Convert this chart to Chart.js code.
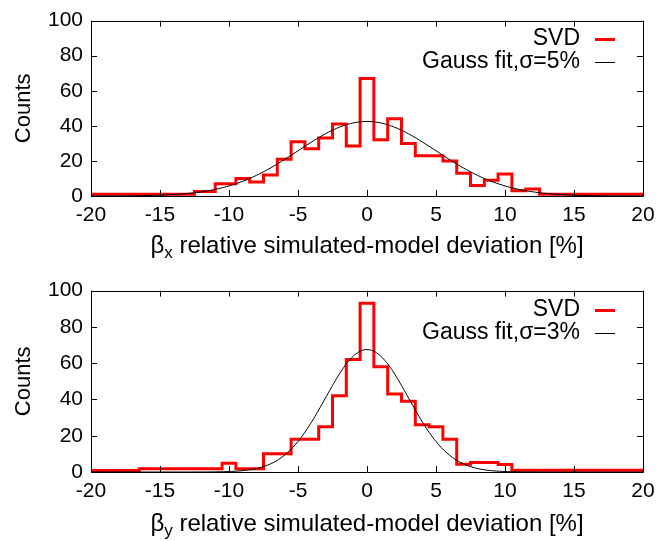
<!DOCTYPE html>
<html>
<head>
<meta charset="utf-8">
<title>Beta beating histograms</title>
<script src="https://cdn.jsdelivr.net/npm/chart.js@4.4.1/dist/chart.umd.min.js"></script>
<style>
    body { margin: 0; background: #fff; }
    canvas.panel { position: absolute; left: 0; }
</style>
</head>
<body>
<canvas id="chartBetaX" class="panel" width="671" height="270" style="top:0px"></canvas>
<canvas id="chartBetaY" class="panel" width="671" height="271" style="top:270px"></canvas>
<script>
// horizontal plane: histogram bin edges [%] and counts per bin
const edgesX = [-20, -12.5, -11, -9.5, -8.5, -7.5, -6.5, -5.5, -4.5, -3.5, -2.5, -1.5, -0.5,
    0.5, 1.5, 2.5, 3.5, 5.5, 6.5, 7.5, 8.5, 9.5, 10.5, 11.5, 12.5, 20];
const countsX = [1, 2.5, 7, 10, 8, 12, 21, 31, 27, 33, 41, 28.5, 67,
    32, 44, 30, 23, 20, 13, 6, 9, 12.5, 3, 4, 1];

// vertical plane
const edgesY = [-20, -16.5, -10.5, -9.5, -7.5, -5.5, -3.5, -2.5, -1.5, -0.5,
    0.5, 1.5, 2.5, 3.5, 4.5, 5.5, 6.5, 7.5, 9.5, 10.5, 20];
const countsY = [0.8, 1.8, 4.8, 1.8, 10, 18, 25, 42, 62, 93,
    58, 43, 39, 26, 25, 18, 4.3, 5.2, 4.2, 0.9];

// gaussian fits: [amplitude, mean, sigma]
const fitX = [42.5, 0, 5];
const fitY = [67.5, 0, 3];

// axis ticks
const xTicks = [-20, -15, -10, -5, 0, 5, 10, 15, 20];
const yTicks = [0, 20, 40, 60, 80, 100];

const FONT = "'Liberation Sans', Arial, Helvetica, sans-serif";

// histogram as step points (left edge, count) + closing point at the last edge
function stepPoints(edges, counts) {
    const pts = counts.map((c, i) => ({ x: edges[i], y: c }));
    pts.push({ x: edges[edges.length - 1], y: counts[counts.length - 1] });
    return pts;
}

// sample the fitted gaussian over the axis range
function gaussPoints(fit) {
    const [amp, mu, sigma] = fit;
    const pts = [];
    for (let x = xTicks[0]; x <= xTicks[xTicks.length - 1] + 1e-9; x += 0.2) {
        pts.push({ x: x, y: amp * Math.exp(-((x - mu) * (x - mu)) / (2 * sigma * sigma)) });
    }
    return pts;
}

// frame, inward ticks, axis titles and the key, gnuplot style
const gnuplotDecor = {
    id: 'gnuplotDecor',
    afterDraw(chart, args, opts) {
        const ctx = chart.ctx;
        const a = chart.chartArea;
        const xs = chart.scales.x;
        const ys = chart.scales.y;
        ctx.save();
        ctx.strokeStyle = '#000';
        ctx.lineWidth = 1;
        ctx.beginPath();
        ctx.rect(Math.round(a.left) + 0.5, Math.round(a.top) + 0.5,
            Math.round(a.width), Math.round(a.height));
        xTicks.forEach(v => {
            const px = Math.round(xs.getPixelForValue(v)) + 0.5;
            ctx.moveTo(px, a.bottom); ctx.lineTo(px, a.bottom - 6);
            ctx.moveTo(px, a.top); ctx.lineTo(px, a.top + 6);
        });
        yTicks.forEach(v => {
            const py = Math.round(ys.getPixelForValue(v)) + 0.5;
            ctx.moveTo(a.left, py); ctx.lineTo(a.left + 6, py);
            ctx.moveTo(a.right, py); ctx.lineTo(a.right - 6, py);
        });
        ctx.stroke();

        ctx.fillStyle = '#000';

        // y title
        ctx.save();
        ctx.font = '22px ' + FONT;
        ctx.translate(24, (a.top + a.bottom) / 2);
        ctx.rotate(-Math.PI / 2);
        ctx.textAlign = 'center';
        ctx.textBaseline = 'middle';
        ctx.fillText('Counts', 0, 0);
        ctx.restore();

        // x title with subscript
        const rest = ' relative simulated-model deviation [%]';
        ctx.font = '24px ' + FONT;
        const wBeta = ctx.measureText('\u03b2').width;
        const wRest = ctx.measureText(rest).width;
        ctx.font = '17px ' + FONT;
        const wSub = ctx.measureText(opts.sub).width;
        const total = wBeta + wSub + wRest;
        const x0 = (a.left + a.right) / 2 - total / 2;
        const base = a.bottom + opts.titleOffset;
        ctx.textAlign = 'left';
        ctx.textBaseline = 'alphabetic';
        ctx.font = '24px ' + FONT;
        ctx.fillText('\u03b2', x0, base);
        ctx.font = '17px ' + FONT;
        ctx.fillText(opts.sub, x0 + wBeta, base + 5);
        ctx.font = '24px ' + FONT;
        ctx.fillText(rest, x0 + wBeta + wSub, base);

        // key
        ctx.font = '23px ' + FONT;
        ctx.textAlign = 'right';
        ctx.textBaseline = 'middle';
        const keyText = 580, lineL = 595, lineR = 615;
        const rows = [
            { label: 'SVD', color: '#ff0000', width: 3, dy: opts.keyTop },
            { label: opts.fitLabel, color: '#000', width: 1, dy: opts.keyTop + 23 }
        ];
        rows.forEach(r => {
            const y = a.top + r.dy;
            ctx.fillText(r.label, keyText, y);
            ctx.beginPath();
            ctx.strokeStyle = r.color;
            ctx.lineWidth = r.width;
            ctx.moveTo(lineL, Math.round(y) + 0.5);
            ctx.lineTo(lineR, Math.round(y) + 0.5);
            ctx.stroke();
        });
        ctx.restore();
    }
};

function buildChart(canvasId, edges, counts, fit, cfg) {
    const ctx = document.getElementById(canvasId).getContext('2d');
    return new Chart(ctx, {
        type: 'line',
        data: {
            datasets: [
                {
                    label: 'Gauss fit',
                    data: gaussPoints(fit),
                    borderColor: '#000',
                    borderWidth: 1,
                    pointRadius: 0,
                    tension: 0.3,
                    fill: false
                },
                {
                    label: 'SVD',
                    data: stepPoints(edges, counts),
                    borderColor: '#ff0000',
                    borderWidth: 3,
                    pointRadius: 0,
                    stepped: 'before',
                    fill: false
                }
            ]
        },
        options: {
            responsive: false,
            animation: false,
            layout: { padding: { top: cfg.padTop, right: 28, left: 0, bottom: 0 } },
            plugins: {
                legend: { display: false },
                tooltip: { enabled: false },
                gnuplotDecor: cfg.decor
            },
            scales: {
                x: {
                    type: 'linear',
                    min: -20,
                    max: 20,
                    afterBuildTicks: s => { s.ticks = xTicks.map(v => ({ value: v })); },
                    grid: { display: false, drawTicks: false },
                    border: { display: false },
                    ticks: { color: '#000', font: { family: FONT, size: 21 }, padding: 7, maxRotation: 0 },
                    afterFit: s => { s.height = cfg.xAxisHeight; }
                },
                y: {
                    min: 0,
                    max: 100,
                    afterBuildTicks: s => { s.ticks = yTicks.map(v => ({ value: v })); },
                    grid: { display: false, drawTicks: false },
                    border: { display: false },
                    ticks: { color: '#000', font: { family: FONT, size: 21 }, padding: 8 },
                    afterFit: s => { s.width = 91; }
                }
            }
        },
        plugins: [gnuplotDecor]
    });
}

buildChart('chartBetaX', edgesX, countsX, fitX, {
    padTop: 13,
    xAxisHeight: 74,
    decor: { sub: 'x', fitLabel: 'Gauss fit,\u03c3=5%', titleOffset: 57, keyTop: 18 }
});

buildChart('chartBetaY', edgesY, countsY, fitY, {
    padTop: 18,
    xAxisHeight: 69,
    decor: { sub: 'y', fitLabel: 'Gauss fit,\u03c3=3%', titleOffset: 59, keyTop: 19 }
});
</script>
</body>
</html>
